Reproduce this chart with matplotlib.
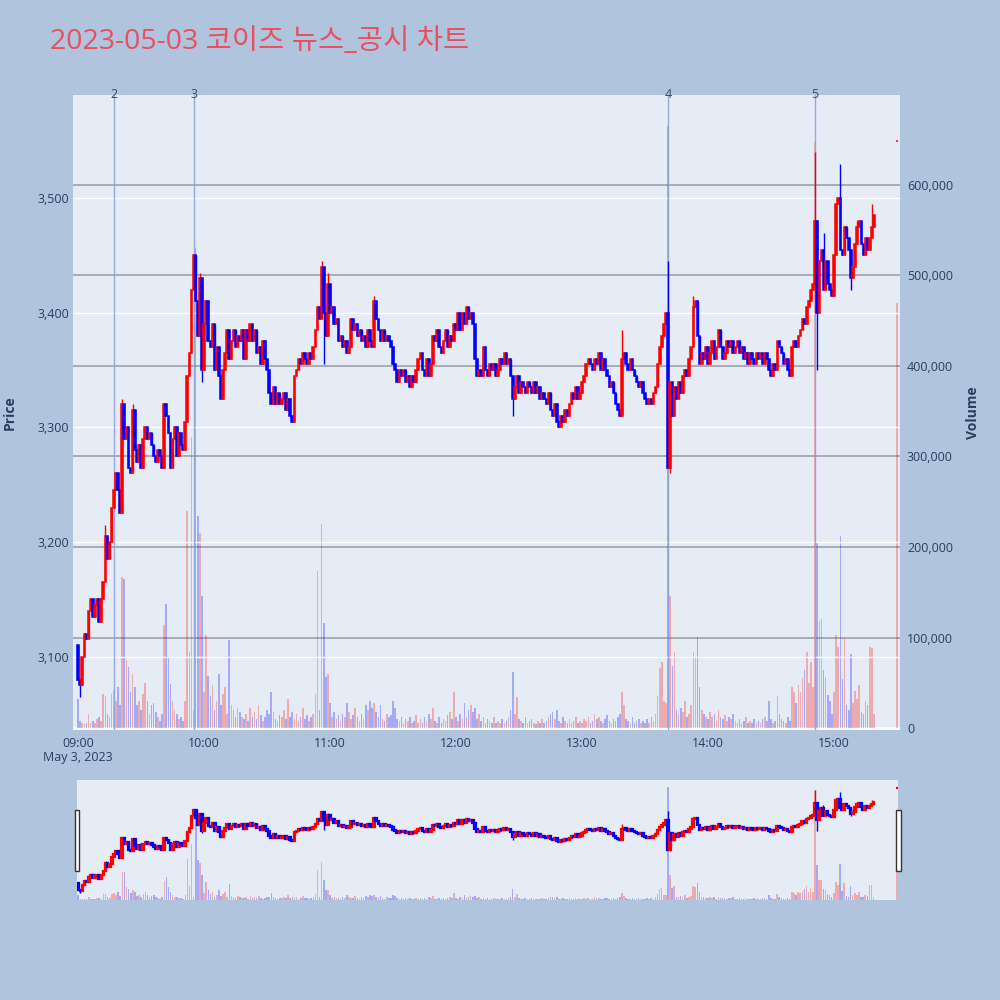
import matplotlib
matplotlib.use("Agg")
import matplotlib.pyplot as plt
import matplotlib.transforms as mtransforms
from matplotlib.patches import Rectangle
from matplotlib.ticker import FuncFormatter
import numpy as np

plt.rcParams['font.family'] = ['Open Sans', 'Noto Sans CJK KR', 'DejaVu Sans']

# minutes after 09:00 (09:00 ~ 15:19, then closing auction at 15:30)
minutes = list(range(380)) + [390]

first_open = 3110
closes = [
    3080, 3075, 3100, 3120, 3115, 3140, 3150, 3135, 3145, 3150, 3130, 3150, 3165, 3205, 3185, 3200, 3230, 3245, 3260, 3245,
    3225, 3320, 3290, 3300, 3265, 3260, 3315, 3280, 3270, 3285, 3265, 3290, 3300, 3290, 3295, 3285, 3275, 3270, 3280, 3275,
    3265, 3320, 3310, 3295, 3265, 3290, 3300, 3275, 3295, 3285, 3280, 3305, 3345, 3365, 3420, 3450, 3410, 3380, 3430, 3350,
    3390, 3410, 3375, 3370, 3390, 3350, 3370, 3345, 3325, 3350, 3365, 3385, 3360, 3375, 3385, 3370, 3380, 3375, 3385, 3360,
    3385, 3375, 3390, 3375, 3385, 3365, 3370, 3355, 3375, 3360, 3350, 3330, 3320, 3335, 3320, 3330, 3320, 3325, 3330, 3315,
    3325, 3310, 3305, 3345, 3350, 3360, 3355, 3365, 3360, 3355, 3365, 3360, 3370, 3385, 3405, 3395, 3440, 3400, 3380, 3425,
    3400, 3405, 3390, 3395, 3375, 3380, 3370, 3375, 3365, 3370, 3395, 3385, 3390, 3380, 3385, 3375, 3380, 3370, 3385, 3375,
    3370, 3410, 3395, 3385, 3375, 3385, 3375, 3380, 3375, 3370, 3355, 3350, 3340, 3350, 3345, 3350, 3340, 3345, 3335, 3345,
    3340, 3350, 3360, 3365, 3350, 3345, 3360, 3345, 3355, 3380, 3375, 3385, 3370, 3365, 3375, 3385, 3370, 3380, 3375, 3390,
    3385, 3400, 3385, 3400, 3390, 3405, 3395, 3400, 3390, 3360, 3345, 3350, 3345, 3370, 3350, 3345, 3355, 3350, 3355, 3345,
    3350, 3360, 3355, 3365, 3355, 3360, 3345, 3325, 3335, 3345, 3330, 3340, 3335, 3330, 3340, 3335, 3330, 3340, 3330, 3335,
    3325, 3330, 3325, 3320, 3330, 3315, 3310, 3320, 3305, 3300, 3310, 3305, 3315, 3310, 3320, 3330, 3325, 3335, 3325, 3330,
    3340, 3345, 3355, 3360, 3355, 3350, 3360, 3355, 3365, 3350, 3360, 3350, 3345, 3335, 3340, 3330, 3320, 3315, 3310, 3360,
    3365, 3355, 3350, 3360, 3350, 3345, 3340, 3335, 3340, 3330, 3325, 3320, 3325, 3320, 3330, 3335, 3355, 3370, 3380, 3390,
    3400, 3265, 3340, 3310, 3335, 3325, 3340, 3330, 3345, 3350, 3345, 3360, 3370, 3405, 3410, 3380, 3355, 3365, 3360, 3370,
    3355, 3365, 3375, 3360, 3370, 3385, 3370, 3360, 3365, 3375, 3370, 3375, 3365, 3370, 3375, 3365, 3370, 3360, 3365, 3355,
    3365, 3360, 3355, 3365, 3360, 3365, 3355, 3365, 3360, 3350, 3345, 3355, 3350, 3375, 3370, 3365, 3355, 3360, 3350, 3345,
    3370, 3375, 3370, 3380, 3385, 3395, 3390, 3405, 3410, 3420, 3425, 3480, 3400, 3445, 3455, 3420, 3445, 3425, 3420, 3415,
    3450, 3495, 3500, 3455, 3450, 3475, 3465, 3455, 3430, 3440, 3460, 3475, 3480, 3460, 3450, 3465, 3455, 3465, 3475, 3485,
    3550,
]
close_auction_open = 3550

# wick extremes that stick out of the bodies
wick_high = {0: 3110, 13: 3215, 21: 3325, 26: 3320, 55: 3450, 58: 3435, 116: 3445, 119: 3435,
             141: 3415, 259: 3385, 281: 3445, 293: 3415, 351: 3540, 355: 3470, 363: 3530,
             371: 3480, 378: 3495}
wick_low = {1: 3065, 59: 3340, 68: 3325, 102: 3305, 117: 3355, 207: 3310, 229: 3300,
            282: 3260, 352: 3350, 368: 3420}

volume_k = [
    32, 8, 5, 4, 6, 15, 5, 8, 6, 10, 12, 8, 38, 35, 15, 12, 38, 42, 30, 45,
    25, 167, 165, 75, 67, 40, 60, 45, 25, 30, 20, 38, 50, 30, 15, 25, 28, 18, 12, 8,
    15, 114, 137, 79, 49, 30, 20, 15, 10, 12, 8, 30, 240, 84, 322, 20, 530, 234, 215, 146,
    40, 103, 58, 35, 48, 20, 30, 60, 25, 38, 45, 15, 97, 25, 20, 12, 22, 18, 12, 10,
    15, 8, 22, 12, 18, 10, 25, 14, 8, 12, 20, 15, 40, 18, 10, 8, 14, 12, 20, 10,
    32, 12, 18, 10, 15, 8, 12, 22, 10, 14, 8, 12, 16, 38, 174, 20, 225, 116, 56, 60,
    28, 12, 18, 10, 14, 8, 15, 12, 28, 18, 10, 14, 22, 12, 8, 16, 10, 25, 20, 30,
    22, 28, 18, 12, 25, 10, 8, 15, 12, 14, 30, 22, 10, 8, 12, 6, 10, 8, 12, 6,
    8, 14, 6, 10, 5, 12, 8, 15, 10, 22, 8, 6, 12, 5, 10, 8, 14, 18, 10, 40,
    12, 8, 15, 10, 28, 12, 20, 25, 18, 22, 10, 15, 8, 12, 6, 10, 8, 5, 12, 6,
    8, 5, 10, 6, 8, 12, 20, 62, 15, 34, 10, 8, 6, 12, 5, 8, 10, 6, 4, 8,
    5, 10, 6, 8, 12, 15, 18, 10, 20, 8, 6, 12, 8, 5, 10, 6, 8, 12, 5, 8,
    6, 10, 8, 12, 5, 8, 15, 10, 12, 8, 6, 10, 14, 8, 5, 10, 8, 12, 15, 40,
    25, 10, 8, 6, 12, 5, 8, 10, 6, 8, 5, 10, 6, 12, 8, 15, 35, 66, 73, 30,
    28, 665, 146, 69, 84, 20, 15, 22, 18, 30, 12, 15, 25, 84, 79, 101, 45, 20, 15, 12,
    10, 18, 12, 15, 8, 20, 12, 10, 14, 8, 12, 10, 15, 8, 6, 10, 5, 8, 12, 6,
    8, 5, 10, 6, 8, 5, 10, 12, 8, 30, 10, 6, 8, 35, 15, 10, 8, 6, 12, 8,
    45, 40, 28, 47, 40, 55, 64, 84, 50, 73, 45, 647, 206, 118, 120, 64, 56, 36, 30, 15,
    40, 103, 90, 212, 54, 99, 25, 20, 82, 28, 41, 32, 47, 18, 15, 30, 25, 90, 88, 15,
    470,
]

news_labels = ['2', '3', '4', '5']
news_minutes = [17, 55, 281, 351]

hour_ticks = [0, 60, 120, 180, 240, 300, 360]
hour_labels = ['09:00', '10:00', '11:00', '12:00', '13:00', '14:00', '15:00']

# ---- derived candle values
x = np.array(minutes)
c = np.array(closes, dtype=float)
o = np.concatenate([[first_open], c[:-1]])
o[-1] = close_auction_open
hi = np.maximum(o, c)
lo = np.minimum(o, c)
for k, v in wick_high.items():
    hi[minutes.index(k)] = max(hi[minutes.index(k)], v)
for k, v in wick_low.items():
    lo[minutes.index(k)] = min(lo[minutes.index(k)], v)
up = c > o
up[-1] = True
vol = np.array(volume_k) * 1000

RED, BLUE = '#ff0000', '#0000ff'
PLOT_BG = '#e5ecf6'
TXT = '#2a3f5f'

fig = plt.figure(figsize=(10, 10), dpi=100, facecolor='#b0c4de')


def draw_chart(axp, axv, body_w, lw):
    cols = np.where(up, RED, BLUE)
    vcols = [(1, 0, 0, 0.28) if u else (0, 0, 1, 0.28) for u in up]
    axv.bar(x, vol, width=0.75, color=vcols, linewidth=0)
    axp.vlines(x, lo, hi, colors=cols, linewidth=1.0, zorder=3)
    axp.bar(x, np.maximum(np.abs(c - o), 0.01), bottom=np.minimum(o, c),
            width=body_w, color=cols, edgecolor=cols, linewidth=lw, zorder=4)


# ---- main chart
ax_v = fig.add_axes([0.073, 0.27, 0.827, 0.635])
ax_p = ax_v.twinx()
ax_p.yaxis.tick_left()
ax_v.yaxis.tick_right()
ax_p.set_zorder(ax_v.get_zorder() + 1)
ax_p.patch.set_visible(False)
ax_v.set_facecolor(PLOT_BG)

ax_p.set_ylim(3036, 3590)
ax_v.set_ylim(-2200, 699400)
ax_v.set_xlim(-2.4, 391.4)

ax_p.set_yticks([3100, 3200, 3300, 3400, 3500])
ax_v.set_yticks([0, 100000, 200000, 300000, 400000, 500000, 600000])
fmt = FuncFormatter(lambda v, p: f'{v:,.0f}')
ax_p.yaxis.set_major_formatter(fmt)
ax_v.yaxis.set_major_formatter(fmt)
ax_v.set_xticks(hour_ticks)
ax_v.set_xticklabels(hour_labels)

for a in (ax_p, ax_v):
    for s in a.spines.values():
        s.set_visible(False)
    a.tick_params(length=0, labelsize=9, labelcolor=TXT)
ax_p.tick_params(axis='y', pad=3)
ax_v.tick_params(axis='y', pad=5)
ax_v.tick_params(axis='x', pad=5)

for yv in [3100, 3200, 3300, 3400, 3500]:
    ax_p.axhline(yv, color='white', lw=1, zorder=0)
for yv in [100000, 200000, 300000, 400000, 500000, 600000]:
    ax_v.axhline(yv, color='#969aa3', lw=1.1, zorder=0.5)
ax_v.axhline(0, color='white', lw=2, zorder=0.5)

draw_chart(ax_p, ax_v, 0.8, 1.1)

trans = mtransforms.blended_transform_factory(ax_p.transData, ax_p.transAxes)
for lab, m in zip(news_labels, news_minutes):
    ax_p.axvline(m, color='#8ea2dc', lw=1, alpha=0.9, zorder=2)
    ax_p.text(m, 1.0, lab, transform=trans, ha='center', va='center',
              fontsize=9, color='#3a4a6a', zorder=6)

fig.text(0.078, 1 - 0.757, 'May 3, 2023', ha='center', va='center', fontsize=9, color=TXT)
fig.text(0.010, 0.5875, 'Price', rotation=90, ha='center', va='center',
         fontsize=10, fontweight='bold', color=TXT)
fig.text(0.973, 0.5875, 'Volume', rotation=90, ha='center', va='center',
         fontsize=10, fontweight='bold', color=TXT)
fig.text(0.050, 1 - 0.042, '2023-05-03 코이즈 뉴스_공시 차트', ha='left', va='center',
         fontsize=20.5, color='#ea4f60')

# ---- range slider
sl_v = fig.add_axes([0.077, 0.10, 0.821, 0.12])
sl_p = sl_v.twinx()
sl_p.set_zorder(sl_v.get_zorder() + 1)
sl_p.patch.set_visible(False)
sl_v.set_facecolor(PLOT_BG)
sl_p.set_ylim(3033, 3586)
sl_v.set_ylim(0, 706000)
sl_v.set_xlim(-0.6, 390.6)
for a in (sl_p, sl_v):
    a.set_xticks([])
    a.set_yticks([])
    for s in a.spines.values():
        s.set_visible(False)
draw_chart(sl_p, sl_v, 0.8, 1.6)

for hx in (0.0745, 0.8960):
    fig.add_artist(Rectangle((hx, 1 - 0.871), 0.0045, 0.061, transform=fig.transFigure,
                             facecolor='white', edgecolor='#333333', lw=1))

fig.savefig('out.png', dpi=100, facecolor=fig.get_facecolor())
